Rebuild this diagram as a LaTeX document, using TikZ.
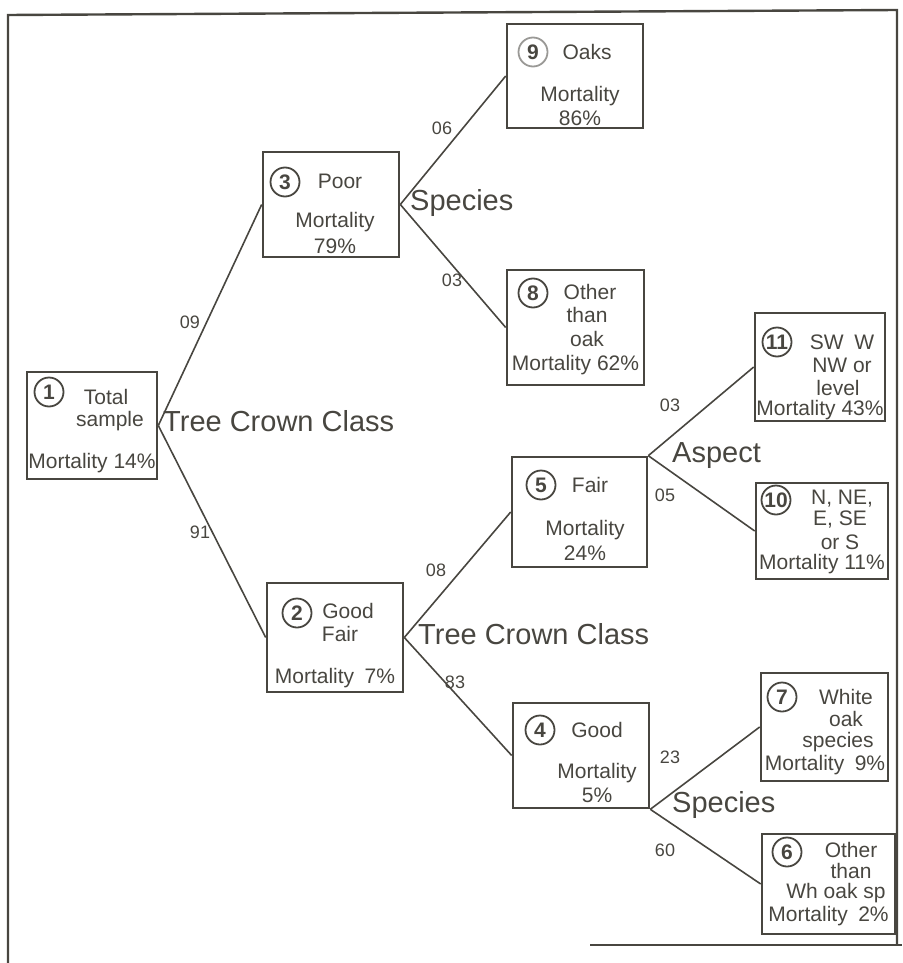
\documentclass[tikz,border=0pt]{standalone}
\usepackage{fontspec}
\setmainfont{Liberation Sans}
\definecolor{ink}{RGB}{72,70,64}
\begin{document}
\begin{tikzpicture}[x=1pt,y=-1pt,
  box/.style={draw=ink,line width=2.6pt,rectangle,inner sep=0pt},
  num/.style={circle,draw=ink,line width=1.8pt,inner sep=0pt,minimum size=29pt,text=ink,font=\fontsize{21}{21}\selectfont\bfseries},
  txt/.style={inner sep=0pt,text=ink,font=\fontsize{21}{23}\selectfont},
  elab/.style={inner sep=0pt,text=ink,font=\fontsize{18}{20}\selectfont},
  sect/.style={inner sep=0pt,text=ink,anchor=west,font=\fontsize{29}{31}\selectfont},
  conn/.style={draw=ink,line width=1.6pt},
  frame/.style={draw=ink,line width=2.4pt}]
\useasboundingbox (0,0) rectangle (902,963);
% frame
\coordinate (f1) at (8,963);
\coordinate (f2) at (8,15);
\coordinate (f3) at (897,10);
\coordinate (f4) at (897,945);
\coordinate (f5) at (590,945);
\coordinate (f6) at (902,945);
\draw[frame] (f1) -- (f2) -- (f3) -- (f4);
\draw[frame] (f5) -- (f6);
% boxes
\node[box,minimum width=130pt,minimum height=107pt] (b1) at (92,425.5) {};
\node[box,minimum width=136pt,minimum height=105pt] (b3) at (331,204.5) {};
\node[box,minimum width=136pt,minimum height=104pt] (b9) at (575,76) {};
\node[box,minimum width=137pt,minimum height=115pt] (b8) at (575.5,327.5) {};
\node[box,minimum width=136pt,minimum height=109pt] (b2) at (335,637.5) {};
\node[box,minimum width=135pt,minimum height=110pt] (b5) at (579.5,512) {};
\node[box,minimum width=136pt,minimum height=105pt] (b4) at (581,755.5) {};
\node[box,minimum width=130pt,minimum height=108pt] (b11) at (820,367) {};
\node[box,minimum width=132pt,minimum height=96pt] (b10) at (822,531) {};
\node[box,minimum width=127pt,minimum height=108pt] (b7) at (824.5,727) {};
\node[box,minimum width=133pt,minimum height=100pt] (b6) at (828.5,884) {};
% box 1
\node[num] (n1) at (49,392) {1};
\node[txt] (t1a) at (106,397) {Total};
\node[txt] (t1b) at (110,421) {sample};
\node[txt] (t1c) at (92,463) {Mortality 14\%};
% box 3
\node[num] (n3) at (285,182) {3};
\node[txt] (t3a) at (340,181) {Poor};
\node[txt] (t3b) at (335,222) {Mortality};
\node[txt] (t3c) at (335,246) {79\%};
% box 9
\node[num,draw=ink!55] (n9) at (533,52) {9};
\node[txt] (t9a) at (587,52) {Oaks};
\node[txt] (t9b) at (580,96) {Mortality};
\node[txt] (t9c) at (580,118) {86\%};
% box 8
\node[num] (n8) at (533,293) {8};
\node[txt] (t8a) at (590,292) {Other};
\node[txt] (t8b) at (587,315) {than};
\node[txt] (t8c) at (587,339) {oak};
\node[txt] (t8d) at (575.5,365) {Mortality 62\%};
% box 11
\node[num] (n11) at (777,342) {11};
\node[txt] (t11a) at (842,342) {SW\enspace W};
\node[txt] (t11b) at (842,365) {NW or};
\node[txt] (t11c) at (838,388) {level};
\node[txt] (t11d) at (820,410) {Mortality 43\%};
% box 10
\node[num] (n10) at (776,500) {10};
\node[txt] (t10a) at (842,499) {N, NE,};
\node[txt] (t10b) at (840,520) {E, SE};
\node[txt] (t10c) at (840,542) {or S};
\node[txt] (t10d) at (822,564) {Mortality 11\%};
% box 5
\node[num] (n5) at (541,485) {5};
\node[txt] (t5a) at (590,485) {Fair};
\node[txt] (t5b) at (585,530) {Mortality};
\node[txt] (t5c) at (585,553) {24\%};
% box 2
\node[num] (n2) at (297,613) {2};
\node[txt] (t2a) at (348,611) {Good};
\node[txt] (t2b) at (340,634) {Fair};
\node[txt] (t2c) at (335,678) {Mortality\enspace 7\%};
% box 4
\node[num] (n4) at (540,730) {4};
\node[txt] (t4a) at (597,730) {Good};
\node[txt] (t4b) at (597,773) {Mortality};
\node[txt] (t4c) at (597,795) {5\%};
% box 7
\node[num] (n7) at (782,697) {7};
\node[txt] (t7a) at (846,697) {White};
\node[txt] (t7b) at (846,719) {oak};
\node[txt] (t7c) at (838,742) {species};
\node[txt] (t7d) at (825,765) {Mortality\enspace 9\%};
% box 6
\node[num] (n6) at (787,852) {6};
\node[txt] (t6a) at (851,850) {Other};
\node[txt] (t6b) at (851,871) {than};
\node[txt] (t6c) at (836,893) {Wh oak sp};
\node[txt] (t6d) at (828.5,916) {Mortality\enspace 2\%};
% connectors
\draw[conn] (b1.east) -- (b3.west);
\draw[conn] (b1.east) -- (b2.west);
\draw[conn] (b3.east) -- (b9.west);
\draw[conn] (b3.east) -- (b8.west);
\draw[conn] (b2.east) -- (b5.west);
\draw[conn] (b2.east) -- (b4.west);
\draw[conn] (b5.north east) -- (b11.west);
\draw[conn] (b5.north east) -- (b10.west);
\draw[conn] (b4.south east) -- (b7.west);
\draw[conn] (b4.south east) -- (b6.west);
% edge labels
\node[elab] (e09) at (190,322) {09};
\node[elab] (e91) at (200,532) {91};
\node[elab] (e06) at (442,128) {06};
\node[elab] (e03a) at (452,280) {03};
\node[elab] (e08) at (436,570) {08};
\node[elab] (e83) at (455,682) {83};
\node[elab] (e03b) at (670,405) {03};
\node[elab] (e05) at (665,495) {05};
\node[elab] (e23) at (670,757) {23};
\node[elab] (e60) at (665,850) {60};
% section labels
\node[sect] (s1) at (163,421) {Tree Crown Class};
\node[sect] (s2) at (410,203) {Species};
\node[sect] (s3) at (418,634) {Tree Crown Class};
\node[sect] (s4) at (672,456) {Aspect};
\node[sect] (s5) at (672,805) {Species};
\end{tikzpicture}
\end{document}
